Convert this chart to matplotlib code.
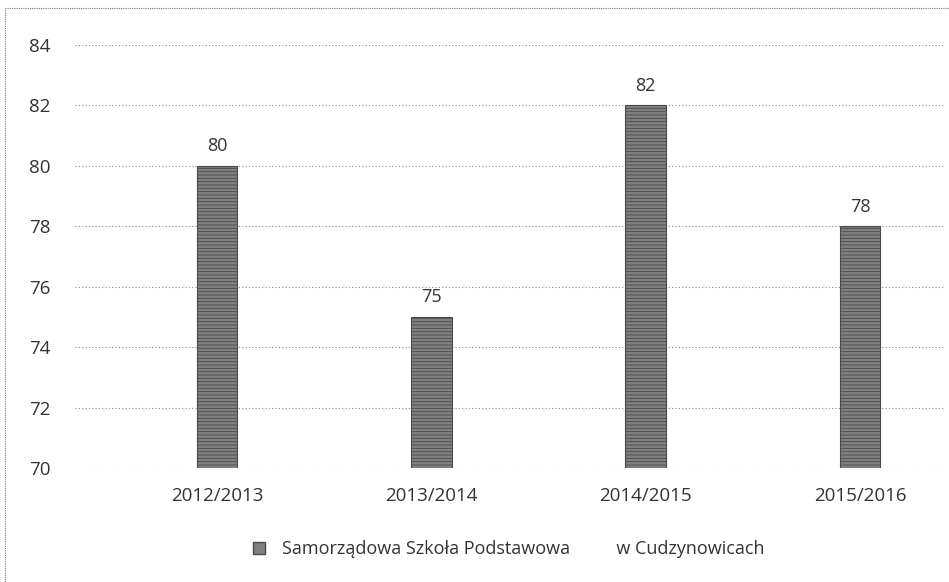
import matplotlib
matplotlib.use("Agg")
import matplotlib.pyplot as plt
from matplotlib.lines import Line2D

# data
years = ['2012/2013', '2013/2014', '2014/2015', '2015/2016']
values = [80, 75, 82, 78]
series_name = 'Samorządowa Szkoła Podstawowa          w Cudzynowicach'

plt.rcParams['font.family'] = ['Open Sans', 'DejaVu Sans']
plt.rcParams['hatch.color'] = '#b0b0b0'
plt.rcParams['hatch.linewidth'] = 0.6

fig = plt.figure(figsize=(9.49, 5.82), dpi=100)
ax = fig.add_axes([75/949, 1 - 468/582, 870/949, (468-45)/582])

x = list(range(len(years)))
bars = ax.bar(x, values, width=0.19, bottom=0, color='#808080',
              edgecolor='#4a4a4a', linewidth=0.8, hatch='-----', zorder=3)
for xi, v in zip(x, values):
    ax.text(xi, v + 0.35, str(v), ha='center', va='bottom', fontsize=13, color='#333333')

ax.set_ylim(70, 84)
ax.set_yticks(range(70, 85, 2))
ax.set_xlim(-0.663, 3.397)
ax.set_xticks(x)
ax.set_xticklabels(years)
ax.tick_params(axis='both', length=0, labelsize=13.5, colors='#333333')
ax.tick_params(axis='x', pad=14)
for lab in ax.get_yticklabels():
    lab.set_horizontalalignment('left')
ax.yaxis.set_tick_params(pad=33)
ax.grid(axis='y', linestyle=(0, (1, 2)), color='#888888', linewidth=0.8, zorder=0)
for s in ax.spines.values():
    s.set_visible(False)

handle = Line2D([], [], marker='s', linestyle='none', markersize=8,
                markerfacecolor='#808080', markeredgecolor='#4a4a4a')
fig.legend([handle], [series_name], loc='center', bbox_to_anchor=(0.53, 1 - 549/582),
           frameon=False, fontsize=13, handletextpad=0.3, labelcolor='#333333')

# outer frame of the chart (left and top edges)
fig.add_artist(Line2D([5/949, 5/949], [0, 1 - 8/582], transform=fig.transFigure,
                      color='#777777', linewidth=0.8, linestyle=(0, (1, 1))))
fig.add_artist(Line2D([5/949, 1], [1 - 8/582, 1 - 8/582], transform=fig.transFigure,
                      color='#777777', linewidth=0.8, linestyle=(0, (1, 1))))

fig.savefig('out.png', dpi=100)
